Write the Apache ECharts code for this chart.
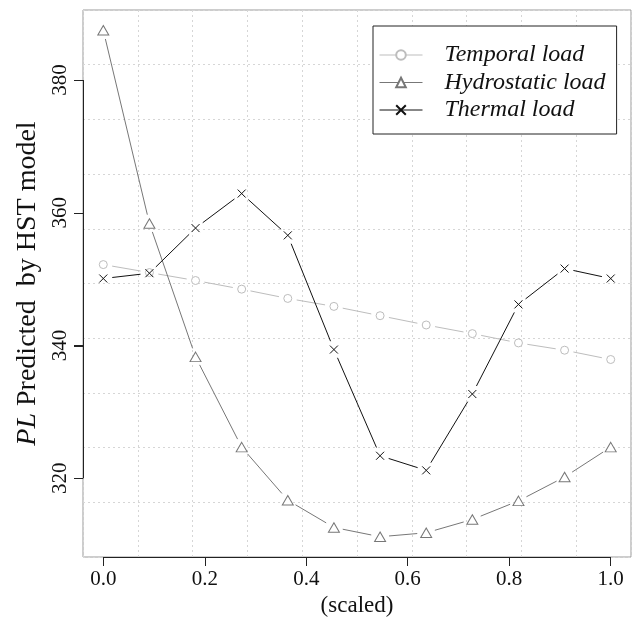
<!DOCTYPE html>
<html><head><meta charset="utf-8">
<script src="https://cdn.jsdelivr.net/npm/echarts@6/dist/echarts.min.js"></script>
<style>html,body{margin:0;padding:0;background:#fff}#c{width:638px;height:619px}</style>
</head><body><div id="c"></div>
<script>
const xValues = [0.0, 0.0909, 0.1818, 0.2727, 0.3636, 0.4545, 0.5455, 0.6364, 0.7273, 0.8182, 0.9091, 1.0];
const temporal = [352.2, 351.0, 349.8, 348.5, 347.1, 345.9, 344.5, 343.1, 341.8, 340.4, 339.3, 337.9];
const hydrostatic = [387.5, 358.4, 338.3, 324.7, 316.7, 312.6, 311.2, 311.8, 313.8, 316.6, 320.2, 324.7];
const thermal = [350.1, 350.9, 357.7, 362.9, 356.6, 339.4, 323.4, 321.2, 332.7, 346.2, 351.6, 350.1];
const seriesNames = ['Temporal load', 'Hydrostatic load', 'Thermal load'];
const xTicks = [0, 0.2, 0.4, 0.6, 0.8, 1.0];
const xTickLabels = ['0.0', '0.2', '0.4', '0.6', '0.8', '1.0'];
const yTicks = [320, 340, 360, 380];
const yTickLabels = ['320', '340', '360', '380'];

const FONT = '"Liberation Serif", "DejaVu Serif", serif';
// R-style 4% axis expansion
const allY = temporal.concat(hydrostatic, thermal);
const dMin = Math.min.apply(null, allY), dMax = Math.max.apply(null, allY);
const yMin = dMin - 0.04 * (dMax - dMin), yMax = dMax + 0.04 * (dMax - dMin);
const xMin = xValues[0] - 0.04 * (xValues[xValues.length - 1] - xValues[0]);
const xMax = xValues[xValues.length - 1] + 0.04 * (xValues[xValues.length - 1] - xValues[0]);

function lookup(ticks, labels, v) {
  for (let i = 0; i < ticks.length; i++) if (Math.abs(ticks[i] - v) < 1e-9) return labels[i];
  return '';
}
function segs(vals) {
  const out = [];
  for (let i = 0; i < vals.length - 1; i++) out.push([xValues[i], vals[i], xValues[i + 1], vals[i + 1]]);
  return out;
}
const GAP = 9;
function gapLine(vals, color, z) {
  return {
    type: 'custom', z: z, silent: true, clip: true,
    data: segs(vals),
    encode: { x: [0, 2], y: [1, 3] },
    renderItem: function (params, api) {
      const p0 = api.coord([api.value(0), api.value(1)]);
      const p1 = api.coord([api.value(2), api.value(3)]);
      const dx = p1[0] - p0[0], dy = p1[1] - p0[1];
      const len = Math.sqrt(dx * dx + dy * dy);
      if (len <= 2 * GAP) return null;
      const ux = dx / len, uy = dy / len;
      return {
        type: 'line',
        shape: { x1: p0[0] + ux * GAP, y1: p0[1] + uy * GAP, x2: p1[0] - ux * GAP, y2: p1[1] - uy * GAP },
        style: { stroke: color, lineWidth: 1 }
      };
    }
  };
}
function markers(name, vals, symbol, size, color, fill, z) {
  return {
    type: 'line', name: name, z: z,
    data: vals.map((v, i) => [xValues[i], v]),
    symbol: symbol, symbolSize: size, showSymbol: true,
    lineStyle: { opacity: 0, width: 1, color: color },
    itemStyle: { color: fill, borderColor: color, borderWidth: 1 },
    emphasis: { disabled: true }
  };
}
const colors = ['#bdbdbd', '#777777', '#111111'];
const CIRCLE = 'path://M10,5A5,5,0,1,1,0,5A5,5,0,1,1,10,5Z';
const TRIANGLE = 'path://M5,0L10,8.66L0,8.66Z';
const XSYM = 'path://M0,0L10,10M10,0L0,10';
const hiddenLine = { show: true, onZero: false, lineStyle: { color: 'rgba(0,0,0,0)' } };
const TICK_LEN = 9;

const chart = echarts.init(document.getElementById('c'), null, { renderer: 'canvas' });
chart.setOption({
  animation: false,
  backgroundColor: '#fff',
  grid: { left: 83, top: 10, width: 548, height: 547, show: true, borderColor: '#9a9a9a', borderWidth: 1, containLabel: false, outerBoundsMode: 'none' },
  legend: {
    left: 373, top: 26, orient: 'vertical',
    itemWidth: 43, itemHeight: 12, itemGap: 1.5,
    padding: [16, 11, 11, 6],
    borderColor: '#222', borderWidth: 1, borderRadius: 0, backgroundColor: '#fff',
    selectedMode: false,
    textStyle: { fontFamily: FONT, fontStyle: 'italic', fontSize: 24, color: '#111', lineHeight: 26, padding: [0, 0, 0, 17] },
    lineStyle: { opacity: 1 },
    data: seriesNames.map((n, i) => ({ name: n, lineStyle: { opacity: 1, color: colors[i], width: 1 } }))
  },
  xAxis: [{
    type: 'value', min: xMin, max: xMax, position: 'bottom',
    axisLine: hiddenLine, splitLine: { show: false },
    axisTick: { show: true, customValues: xTicks, length: TICK_LEN, lineStyle: { color: '#222' } },
    axisLabel: { customValues: xTicks, formatter: v => lookup(xTicks, xTickLabels, v), fontFamily: FONT, fontSize: 21, color: '#111', margin: 12 },
    name: '(scaled)', nameLocation: 'middle', nameGap: 37,
    nameTextStyle: { fontFamily: FONT, fontSize: 23, color: '#111' }
  }, {
    type: 'value', min: 0, max: 10, interval: 1, position: 'top',
    axisLine: { show: false, onZero: false }, axisTick: { show: false }, axisLabel: { show: false },
    splitLine: { show: true, lineStyle: { color: '#d6d6d6', type: [2, 3], width: 1 } }
  }],
  yAxis: [{
    type: 'value', min: yMin, max: yMax, position: 'left',
    axisLine: hiddenLine, splitLine: { show: false },
    axisTick: { show: true, customValues: yTicks, length: TICK_LEN, lineStyle: { color: '#222', width: 1 } },
    axisLabel: { customValues: yTicks, formatter: v => lookup(yTicks, yTickLabels, v), rotate: 90, fontFamily: FONT, fontSize: 21, color: '#111', margin: 12 },
    name: '{it|PL} Predicted  by HST model', nameLocation: 'middle', nameGap: 38, nameRotate: 90,
    nameTextStyle: { fontFamily: FONT, fontSize: 28, color: '#111', rich: { it: { fontFamily: FONT, fontSize: 28, fontStyle: 'italic', color: '#111' } } }
  }, {
    type: 'value', min: 0, max: 10, interval: 1, position: 'right',
    axisLine: { show: false, onZero: false }, axisTick: { show: false }, axisLabel: { show: false },
    splitLine: { show: true, lineStyle: { color: '#d6d6d6', type: [2, 3], width: 1 } }
  }],
  series: [
    gapLine(temporal, colors[0], 3),
    markers(seriesNames[0], temporal, CIRCLE, 8, colors[0], '#fff', 4),
    gapLine(hydrostatic, colors[1], 5),
    markers(seriesNames[1], hydrostatic, TRIANGLE, [11, 9.5], colors[1], '#fff', 6),
    gapLine(thermal, colors[2], 7),
    Object.assign(markers(seriesNames[2], thermal, XSYM, 8, colors[2], colors[2], 8), {
      markLine: {
        silent: true, symbol: 'none', animation: false,
        label: { show: false },
        lineStyle: { color: '#222', type: 'solid', width: 1 },
        data: [
          [{ coord: [xTicks[0], yMin] }, { coord: [xTicks[xTicks.length - 1], yMin] }],
          [{ coord: [xMin, yTicks[0]] }, { coord: [xMin, yTicks[yTicks.length - 1]] }]
        ]
      }
    }),
    {
      // y-axis tick marks placed through the axis scale
      type: 'custom', silent: true, clip: false, z: 10,
      data: yTicks.map(v => [xMin, v]),
      encode: { x: 0, y: 1 },
      renderItem: function (params, api) {
        const p = api.coord([api.value(0), api.value(1)]);
        const yy = Math.round(p[1]) + 0.5;
        return { type: 'line', shape: { x1: p[0] - TICK_LEN, y1: yy, x2: p[0], y2: yy }, style: { stroke: '#222', lineWidth: 1 } };
      }
    }
  ]
});
</script></body></html>
